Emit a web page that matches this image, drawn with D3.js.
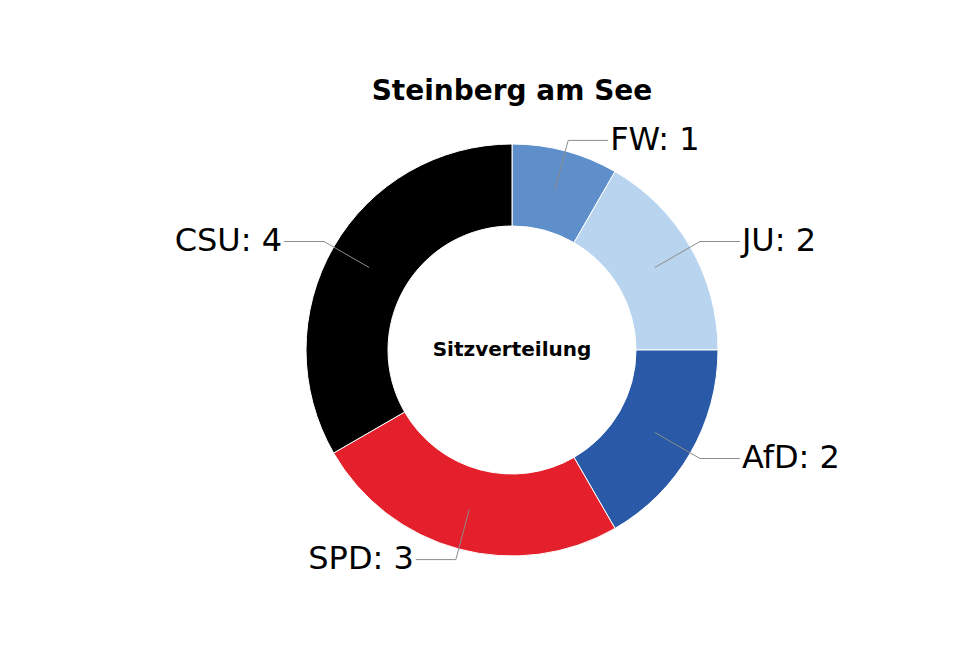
<!DOCTYPE html>
<html>
<head>
<meta charset="utf-8">
<script src="https://cdn.jsdelivr.net/npm/d3@7"></script>
<style>
  body { margin: 0; background: #fff; }
  svg { font-family: "DejaVu Sans", sans-serif; }
</style>
</head>
<body>
<svg id="chart" width="980" height="658"></svg>
<script>
// Sitzverteilung data
const parties = ["FW", "JU", "AfD", "SPD", "CSU"];
const seats = [1, 2, 2, 3, 4];
const partyColors = ["#5f8fcb", "#b9d4ee", "#2a5aa7", "#e3202b", "#000000"];

const svg = d3.select("#chart");
const cx = 512, cy = 350;
const outerR = 206, innerR = 124;

const color = d3.scaleOrdinal().domain(parties).range(partyColors);

const pie = d3.pie().sort(null).value(d => d.seats);
const arcs = pie(parties.map((p, i) => ({ party: p, seats: seats[i] })));

const arc = d3.arc().innerRadius(innerR).outerRadius(outerR);
const midArc = d3.arc().innerRadius((innerR + outerR) / 2).outerRadius((innerR + outerR) / 2);
const elbowArc = d3.arc().innerRadius(outerR + 11).outerRadius(outerR + 11);

const isRight = d => (d.startAngle + d.endAngle) / 2 < Math.PI;

const g = svg.append("g").attr("transform", `translate(${cx},${cy})`);

// Ringsegmente
g.selectAll("path.slice")
    .data(arcs)
    .enter()
    .append("path")
    .attr("class", "slice")
    .attr("d", arc)
    .attr("fill", d => color(d.data.party))
    .attr("stroke", "#fff")
    .attr("stroke-width", 1);

// Verbindungslinien
g.selectAll("polyline")
    .data(arcs)
    .enter()
    .append("polyline")
    .attr("points", d => {
        const a = midArc.centroid(d);
        const b = elbowArc.centroid(d);
        const c = [b[0] + (isRight(d) ? 40 : -40), b[1]];
        return [a, b, c].map(p => p.join(",")).join(" ");
    })
    .attr("fill", "none")
    .attr("stroke", "#8c8c8c")
    .attr("stroke-width", 1);

// Beschriftungen
g.selectAll("text.label")
    .data(arcs)
    .enter()
    .append("text")
    .attr("class", "label")
    .attr("x", d => elbowArc.centroid(d)[0] + (isRight(d) ? 42 : -42))
    .attr("y", d => elbowArc.centroid(d)[1])
    .attr("dy", "0.29em")
    .attr("text-anchor", d => isRight(d) ? "start" : "end")
    .style("font-size", "32px")
    .style("fill", "#000")
    .text(d => `${d.data.party}: ${d.data.seats}`);

// Mitteltext
g.append("text")
    .attr("x", 0)
    .attr("y", 6)
    .attr("text-anchor", "middle")
    .style("font-size", "20px")
    .style("font-weight", "bold")
    .style("stroke", "#fff")
    .style("stroke-width", 0.6)
    .style("paint-order", "stroke")
    .text("Sitzverteilung");

// Titel
svg.append("text")
    .attr("x", cx)
    .attr("y", 100)
    .attr("text-anchor", "middle")
    .style("font-size", "28px")
    .style("font-weight", "bold")
    .text("Steinberg am See");
</script>
</body>
</html>
